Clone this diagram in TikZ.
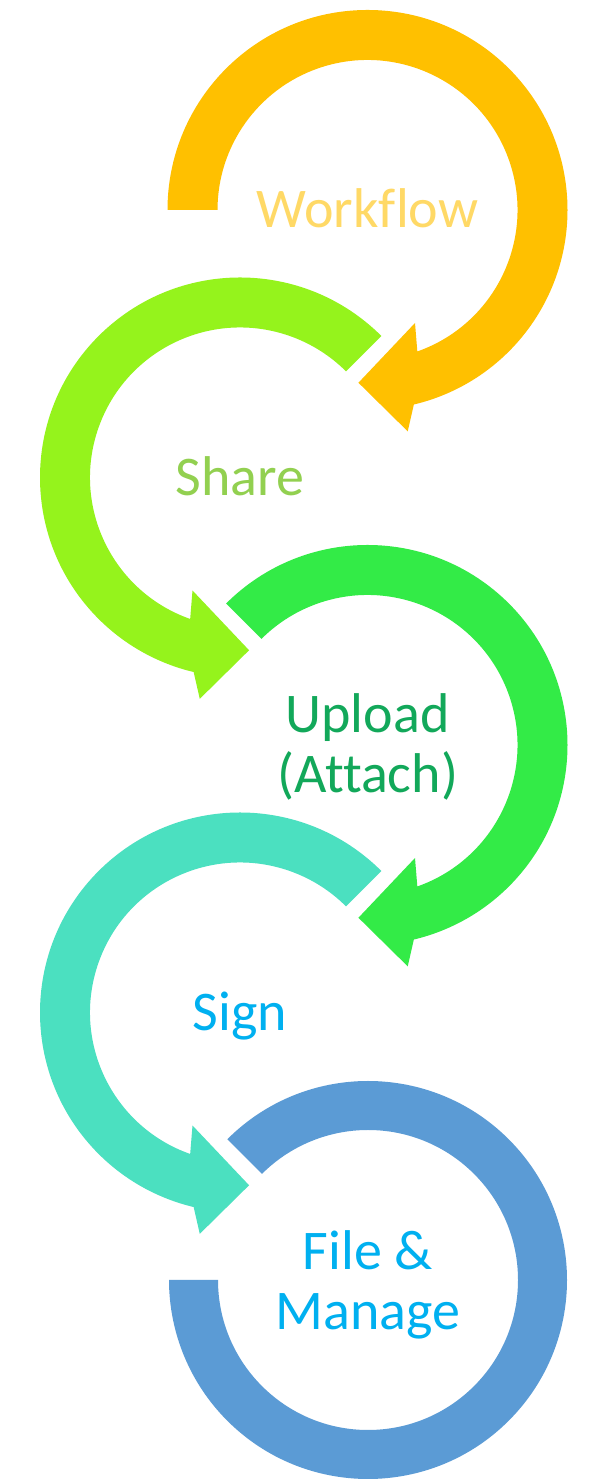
\documentclass[tikz,border=0pt]{standalone}
\usepackage{fontspec}
\setmainfont{Carlito}[Ligatures=NoCommon]
\usetikzlibrary{calc}
\definecolor{ringA}{HTML}{FFC000}
\definecolor{ringB}{HTML}{95F31C}
\definecolor{ringC}{HTML}{33EB47}
\definecolor{ringD}{HTML}{4BE0C0}
\definecolor{ringE}{HTML}{5B9BD5}
\definecolor{txtA}{HTML}{FFD966}
\definecolor{txtB}{HTML}{92D050}
\definecolor{txtC}{HTML}{12A85A}
\definecolor{txtD}{HTML}{00B0F0}
\definecolor{txtE}{HTML}{00B0F0}
\begin{document}
\begin{tikzpicture}[x=1pt,y=1pt,
  lbl/.style={inner sep=0pt, align=center, anchor=base,
    font=\fontsize{56}{60.5}\selectfont}]
\useasboundingbox (0,0) rectangle (589,1479);
\fill[white] (0,0) rectangle (589,1479);
\coordinate (c1) at (367.5,1269);
\coordinate (c2) at (240,1001.5);
\coordinate (c3) at (367.5,734);
\coordinate (c4) at (240,466.5);
\coordinate (c5) at (368,199);
% ring 1 : clockwise, starts at left
\begin{scope}[shift={(c1)}]
\fill[ringA] (180:200) arc[start angle=180, end angle=-76.6, radius=200]
  -- (-79.7:225) -- (-93:173) -- (-67.2:122.6) -- (-70.6:150)
  arc[start angle=-70.6, end angle=180, radius=150] -- cycle;
\end{scope}
% ring 2 : counter-clockwise
\begin{scope}[shift={(c2)}]
\fill[ringB] (45:200) arc[start angle=45, end angle=256.6, radius=200]
  -- (259.7:225) -- (273:173) -- (247.2:122.6) -- (250.6:150)
  arc[start angle=250.6, end angle=45, radius=150] -- cycle;
\end{scope}
% ring 3 : clockwise
\begin{scope}[shift={(c3)}]
\fill[ringC] (135:200) arc[start angle=135, end angle=-76.6, radius=200]
  -- (-79.7:225) -- (-93:173) -- (-67.2:122.6) -- (-70.6:150)
  arc[start angle=-70.6, end angle=135, radius=150] -- cycle;
\end{scope}
% ring 4 : counter-clockwise
\begin{scope}[shift={(c4)}]
\fill[ringD] (45:200) arc[start angle=45, end angle=256.6, radius=200]
  -- (259.7:225) -- (273:173) -- (247.2:122.6) -- (250.6:150)
  arc[start angle=250.6, end angle=45, radius=150] -- cycle;
\end{scope}
% ring 5 : no head
\begin{scope}[shift={(c5)}]
\fill[ringE] (135:199) arc[start angle=135, end angle=-180, radius=199]
  -- (180:150) arc[start angle=-180, end angle=135, radius=150] -- cycle;
\end{scope}
% labels
\node[lbl, text=txtA] (t1) at ($(c1)+(0,-18)$) {Workflow};
\node[lbl, text=txtB] (t2) at ($(c2)+(0,-18)$) {Share};
\node[lbl, text=txtC] (t3) at ($(c3)+(0,-48)$) {Upload\\(Attach)};
\node[lbl, text=txtD] (t4) at ($(c4)+(0,-18)$) {Sign};
\node[lbl, text=txtE] (t5) at ($(c5)+(0,-50)$) {File \&\\Manage};
\end{tikzpicture}
\end{document}
